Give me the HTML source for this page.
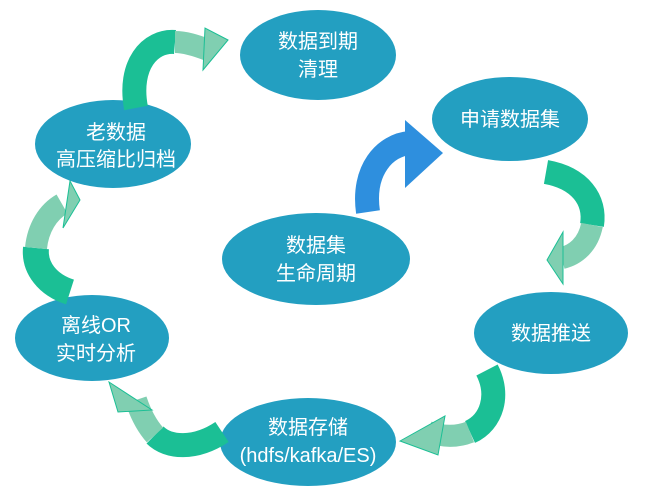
<!DOCTYPE html>
<html><head><meta charset="utf-8"><style>
html,body{margin:0;padding:0;background:#fff;}
svg{display:block;}
text{font-family:"Liberation Sans","Noto Sans CJK SC",sans-serif;fill:#fff;font-size:20px;text-anchor:middle;}
</style></head><body>
<svg width="647" height="504" viewBox="0 0 647 504" xmlns="http://www.w3.org/2000/svg">
<g fill="#239fc1">
<ellipse cx="318" cy="55" rx="78" ry="45"/>
<ellipse cx="510" cy="119" rx="78" ry="42"/>
<ellipse cx="113" cy="144" rx="78" ry="44"/>
<ellipse cx="316" cy="259" rx="94" ry="46"/>
<ellipse cx="551" cy="333" rx="77" ry="41"/>
<ellipse cx="92" cy="338" rx="77" ry="43"/>
<ellipse cx="308" cy="442" rx="88" ry="44"/>
</g>
<g fill="none" stroke-linecap="butt">
<path d="M136,108 C128,65 150,40 175,42" stroke="#1bbf95" stroke-width="24"/>
<path d="M175,42 C185,42 195,45 208,50" stroke="#80cfb1" stroke-width="22"/>
<path d="M368,212 C362,170 385,145 410,143" stroke="#2e8fde" stroke-width="24"/>
<path d="M546,172 C580,178 596,200 592,225" stroke="#1bbf95" stroke-width="24"/>
<path d="M592,225 C588,245 575,255 562,258" stroke="#80cfb1" stroke-width="22"/>
<path d="M487,370 C500,395 492,422 470,432" stroke="#1bbf95" stroke-width="24"/>
<path d="M470,432 C455,438 440,436 428,432" stroke="#80cfb1" stroke-width="22"/>
<path d="M222,432 C195,450 168,448 155,435" stroke="#1bbf95" stroke-width="24"/>
<path d="M155,435 C146,425 140,412 136,400" stroke="#80cfb1" stroke-width="22"/>
<path d="M70,292 C48,285 34,268 36,248" stroke="#1bbf95" stroke-width="26"/>
<path d="M36,248 C38,228 48,212 62,204" stroke="#80cfb1" stroke-width="22"/>
</g>
<polygon points="228,40 205,28 203,70" fill="#80cfb1" stroke="#1bbf95" stroke-width="1"/>
<polygon points="443,153 405,120 405,188" fill="#2e8fde"/>
<polygon points="547,260 563,232 563,284" fill="#80cfb1" stroke="#1bbf95" stroke-width="1"/>
<polygon points="400,441 445,416 438,455" fill="#80cfb1" stroke="#1bbf95" stroke-width="1"/>
<polygon points="109,382 152,410 118,412" fill="#80cfb1" stroke="#1bbf95" stroke-width="1"/>
<polygon points="70,181 80,200 63,228" fill="#80cfb1" stroke="#1bbf95" stroke-width="1"/>
<text x="318" y="48">数据到期</text>
<text x="318" y="76">清理</text>
<text x="510" y="126">申请数据集</text>
<text x="116" y="139">老数据</text>
<text x="116" y="166">高压缩比归档</text>
<text x="316" y="252">数据集</text>
<text x="316" y="280">生命周期</text>
<text x="551" y="340">数据推送</text>
<text x="96" y="332">离线OR</text>
<text x="96" y="360">实时分析</text>
<text x="308" y="434">数据存储</text>
<text x="308" y="462">(hdfs/kafka/ES)</text>
</svg>
</body></html>
